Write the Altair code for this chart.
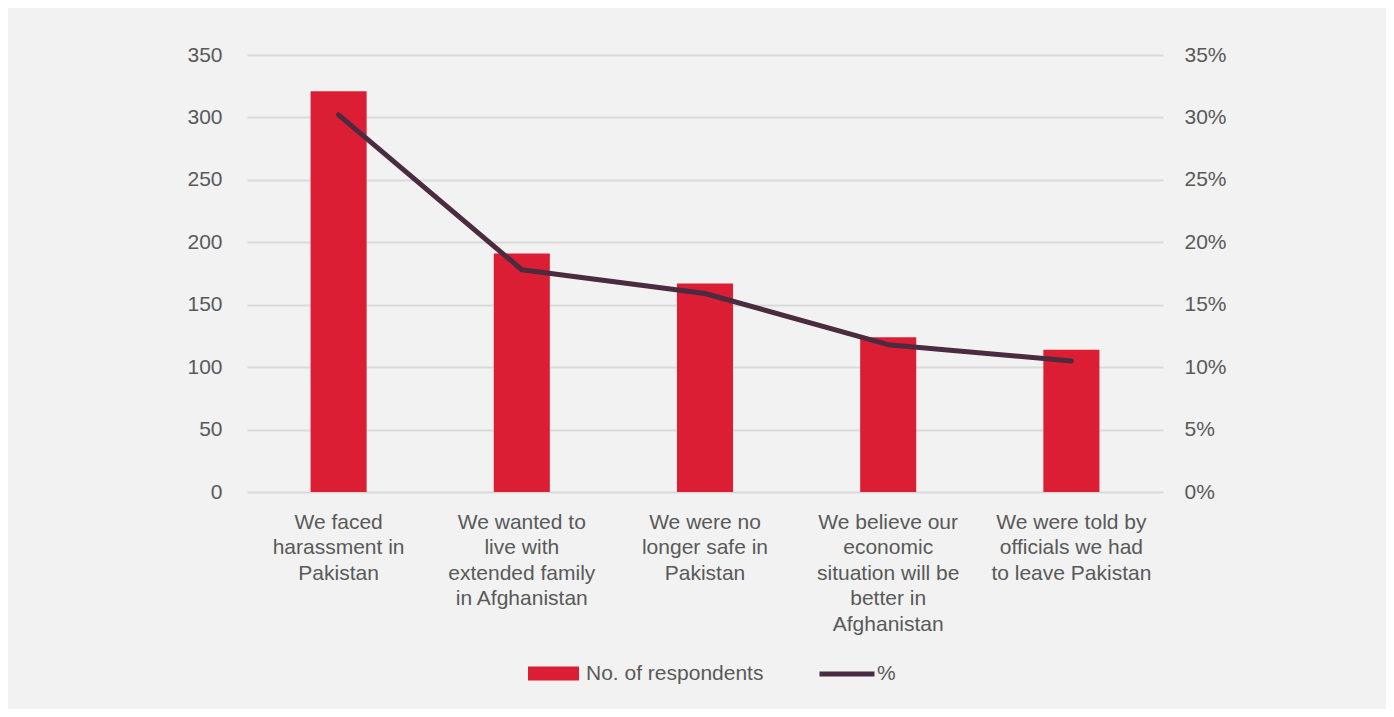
import altair as alt
import pandas as pd

categories = [
    "We faced harassment in Pakistan",
    "We wanted to live with extended family in Afghanistan",
    "We were no longer safe in Pakistan",
    "We believe our economic situation will be better in Afghanistan",
    "We were told by officials we had to leave Pakistan",
]
label_lines = [
    ["We faced", "harassment in", "Pakistan"],
    ["We wanted to", "live with", "extended family", "in Afghanistan"],
    ["We were no", "longer safe in", "Pakistan"],
    ["We believe our", "economic", "situation will be", "better in", "Afghanistan"],
    ["We were told by", "officials we had", "to leave Pakistan"],
]
respondents = [321, 191, 167, 124, 114]
percent = [0.302, 0.178, 0.159, 0.118, 0.105]
bar_series = "No. of respondents"
line_series = "%"
left_ticks = [0, 50, 100, 150, 200, 250, 300, 350]
right_ticks = [0, 0.05, 0.10, 0.15, 0.20, 0.25, 0.30, 0.35]

df = pd.DataFrame({
    "category": categories,
    "respondents": respondents,
    "percent": percent,
    "bar_series": [bar_series] * len(categories),
    "line_series": [line_series] * len(categories),
})

def js_str(s):
    return "'" + s.replace("'", "\\'") + "'"

expr = ""
for cat, lines in zip(categories, label_lines):
    arr = "[" + ",".join(js_str(l) for l in lines) + "]"
    expr += f"datum.value == {js_str(cat)} ? {arr} : "
expr += "datum.value"

RED = "#dc1e34"
PURPLE = "#4a2b3f"
TXT = "#595959"
FONT = "Liberation Sans"

x_enc = alt.X(
    "category:N",
    sort=categories,
    scale=alt.Scale(paddingInner=0.694, paddingOuter=0.347),
    axis=alt.Axis(
        title=None, labelAngle=0, labelExpr=expr, labelPadding=19,
        labelLineHeight=25.6, labelLimit=0, grid=False, domain=False, ticks=False,
        labelBaseline="top",
    ),
)

bars = alt.Chart(df).mark_bar().encode(
    x=x_enc,
    y=alt.Y(
        "respondents:Q",
        scale=alt.Scale(domain=[0, 350], nice=False),
        axis=alt.Axis(
            title=None, values=left_ticks, grid=True, gridColor="#d9d9d9",
            gridWidth=2, labelPadding=25, domain=False, ticks=False,
        ),
    ),
    fill=alt.Fill(
        "bar_series:N",
        scale=alt.Scale(range=[RED]),
        legend=alt.Legend(
            title=None, orient="none", legendX=281, legendY=593,
            symbolType="M-1,-0.275H1V0.275H-1Z", symbolSize=2601,
            symbolStrokeWidth=0, labelOffset=7, padding=0, labelLimit=0,
        ),
    ),
)

line = alt.Chart(df).mark_line(
    strokeWidth=5, strokeCap="round", strokeJoin="round"
).encode(
    x=x_enc,
    y=alt.Y(
        "percent:Q",
        scale=alt.Scale(domain=[0, 0.35], nice=False),
        axis=alt.Axis(
            title=None, orient="right", values=right_ticks, format=".0%",
            grid=False, labelPadding=21, domain=False, ticks=False,
        ),
    ),
    stroke=alt.Stroke(
        "line_series:N",
        scale=alt.Scale(range=[PURPLE]),
        legend=alt.Legend(
            title=None, orient="none", legendX=570, legendY=589,
            symbolType="stroke", symbolSize=3025, symbolStrokeWidth=5,
            labelOffset=0, padding=0, labelLimit=0,
        ),
    ),
)

chart = alt.layer(bars, line).resolve_scale(
    y="independent", fill="independent", stroke="independent"
).properties(
    width=916,
    height=437,
    padding={"left": 239, "top": 47, "right": 223, "bottom": 217},
    autosize=alt.AutoSizeParams(type="none"),
    background="#f2f2f2",
).configure_view(stroke=None).configure_axis(
    labelFont=FONT, labelFontSize=21, labelColor=TXT,
).configure_legend(
    labelFont=FONT, labelFontSize=21, labelColor=TXT,
)

chart.save("out.html", embed_options={"renderer": "svg", "actions": False})
